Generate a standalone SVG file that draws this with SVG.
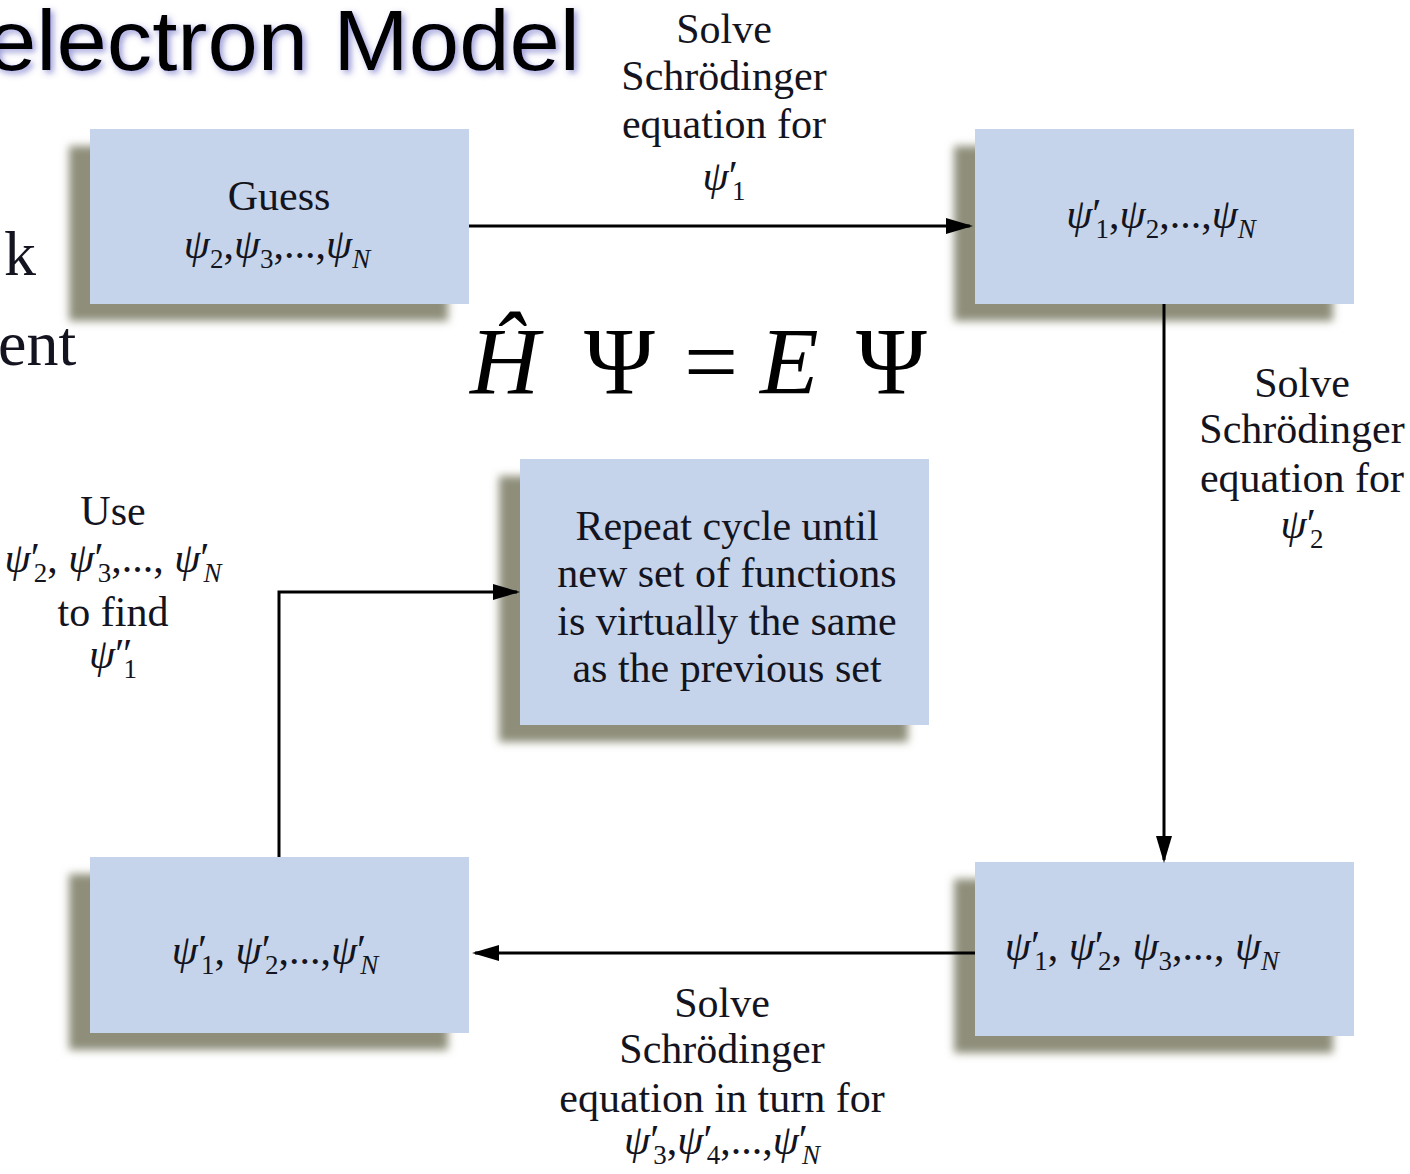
<svg xmlns="http://www.w3.org/2000/svg" width="1410" height="1174" viewBox="0 0 1410 1174">
  <style>
    .t { font-family: "Liberation Serif", "Times New Roman", serif; font-size: 42px; fill: #141420; }
    .c { text-anchor: middle; }
    .i { font-style: italic; }
    .s { font-size: 27px; }
    .box { fill: #c6d4eb; }
    .shadow { fill: #8e8e7a; filter: url(#blur); }
    .conn { fill: none; stroke: #000; stroke-width: 3; }
    .title { font-family: "Liberation Sans", Arial, sans-serif; font-size: 85px; fill: #000; filter: url(#glow); }
    .eq { font-family: "Liberation Serif", "Times New Roman", serif; font-size: 96px; fill: #000; }
  </style>
  <defs>
    <filter id="blur" x="-10%" y="-10%" width="120%" height="120%">
      <feGaussianBlur stdDeviation="4"/>
    </filter>
    <filter id="glow" x="-5%" y="-20%" width="110%" height="150%">
      <feGaussianBlur in="SourceAlpha" stdDeviation="3" result="b"/>
      <feOffset in="b" dx="3" dy="3" result="o"/>
      <feFlood flood-color="#4a4ab8" flood-opacity="0.55"/>
      <feComposite in2="o" operator="in" result="g"/>
      <feMerge><feMergeNode in="g"/><feMergeNode in="SourceGraphic"/></feMerge>
    </filter>
    <marker id="arr" markerUnits="userSpaceOnUse" markerWidth="27" markerHeight="16" refX="24" refY="8" orient="auto">
      <path d="M0,0 L27,8 L0,16 z" fill="#000"/>
    </marker>
  </defs>
  <rect width="1410" height="1174" fill="#fff"/>

  <!-- background slide fragments -->
  <g id="slide">
    <text class="title" x="-14" y="70" textLength="594" lengthAdjust="spacingAndGlyphs">electron Model</text>
    <text class="t" x="4" y="275" style="font-size:64px">k</text>
    <text class="t" x="-2" y="365" style="font-size:64px">ent</text>
  </g>

  <!-- equation -->
  <g id="equation">
    <text class="eq i" x="470" y="394">Ĥ</text>
    <text class="eq" x="584" y="394">Ψ</text>
    <text class="eq" x="684" y="394">=</text>
    <text class="eq i" x="760" y="394">E</text>
    <text class="eq" x="856" y="394">Ψ</text>
  </g>

  <!-- nodes -->
  <g id="node-guess">
    <rect class="shadow" x="69" y="146" width="379" height="175"/>
    <rect class="box" x="90" y="129" width="379" height="175"/>
    <text class="t c" x="279" y="210">Guess</text>
    <text class="t c" x="277" y="258"><tspan class="i">ψ</tspan><tspan class="s" dy="10">2</tspan><tspan dy="-10">,</tspan><tspan class="i">ψ</tspan><tspan class="s" dy="10">3</tspan><tspan dy="-10">,...,</tspan><tspan class="i">ψ</tspan><tspan class="s i" dy="10">N</tspan></text>
  </g>

  <g id="node-top-right">
    <rect class="shadow" x="954" y="146" width="379" height="175"/>
    <rect class="box" x="975" y="129" width="379" height="175"/>
    <text class="t c" x="1161" y="228"><tspan class="i">ψ</tspan><tspan>′</tspan><tspan class="s" dx="-6" dy="10">1</tspan><tspan dy="-10">,</tspan><tspan class="i">ψ</tspan><tspan class="s" dy="10">2</tspan><tspan dy="-10">,...,</tspan><tspan class="i">ψ</tspan><tspan class="s i" dy="10">N</tspan></text>
  </g>

  <g id="node-repeat">
    <rect class="shadow" x="499" y="476" width="409" height="266"/>
    <rect class="box" x="520" y="459" width="409" height="266"/>
    <text class="t c" x="727" y="540">Repeat cycle until</text>
    <text class="t c" x="727" y="587">new set of functions</text>
    <text class="t c" x="727" y="635">is virtually the same</text>
    <text class="t c" x="727" y="682">as the previous set</text>
  </g>

  <g id="node-bottom-left">
    <rect class="shadow" x="69" y="874" width="379" height="176"/>
    <rect class="box" x="90" y="857" width="379" height="176"/>
    <text class="t c" x="275" y="964"><tspan class="i">ψ</tspan><tspan>′</tspan><tspan class="s" dx="-6" dy="10">1</tspan><tspan dy="-10">, </tspan><tspan class="i">ψ</tspan><tspan>′</tspan><tspan class="s" dx="-6" dy="10">2</tspan><tspan dy="-10">,...,</tspan><tspan class="i">ψ</tspan><tspan>′</tspan><tspan class="s i" dx="-6" dy="10">N</tspan></text>
  </g>

  <g id="node-bottom-right">
    <rect class="shadow" x="954" y="879" width="379" height="174"/>
    <rect class="box" x="975" y="862" width="379" height="174"/>
    <text class="t c" x="1142" y="960"><tspan class="i">ψ</tspan><tspan>′</tspan><tspan class="s" dx="-6" dy="10">1</tspan><tspan dy="-10">, </tspan><tspan class="i">ψ</tspan><tspan>′</tspan><tspan class="s" dx="-6" dy="10">2</tspan><tspan dy="-10">, </tspan><tspan class="i">ψ</tspan><tspan class="s" dy="10">3</tspan><tspan dy="-10">,..., </tspan><tspan class="i">ψ</tspan><tspan class="s i" dy="10">N</tspan></text>
  </g>

  <!-- connectors (drawn above the box shadows, as in the reference) -->
  <g id="connectors">
    <path class="conn" d="M469,226 H970" marker-end="url(#arr)"/>
    <path class="conn" d="M1164,304 V860" marker-end="url(#arr)"/>
    <path class="conn" d="M975,953 H475" marker-end="url(#arr)"/>
    <path class="conn" d="M279,857 V592 H517" marker-end="url(#arr)"/>
  </g>

  <!-- edge labels -->
  <g id="label-top">
    <text class="t c" x="724" y="43">Solve</text>
    <text class="t c" x="724" y="90">Schrödinger</text>
    <text class="t c" x="724" y="138">equation for</text>
    <text class="t c" x="724" y="190"><tspan class="i">ψ</tspan><tspan>′</tspan><tspan class="s" dx="-6" dy="10">1</tspan></text>
  </g>
  <g id="label-right">
    <text class="t c" x="1302" y="397">Solve</text>
    <text class="t c" x="1302" y="443">Schrödinger</text>
    <text class="t c" x="1302" y="492">equation for</text>
    <text class="t c" x="1302" y="538"><tspan class="i">ψ</tspan><tspan>′</tspan><tspan class="s" dx="-6" dy="10">2</tspan></text>
  </g>
  <g id="label-bottom">
    <text class="t c" x="722" y="1017">Solve</text>
    <text class="t c" x="722" y="1063">Schrödinger</text>
    <text class="t c" x="722" y="1112">equation in turn for</text>
    <text class="t c" x="722" y="1154"><tspan class="i">ψ</tspan><tspan>′</tspan><tspan class="s" dx="-6" dy="10">3</tspan><tspan dy="-10">,</tspan><tspan class="i">ψ</tspan><tspan>′</tspan><tspan class="s" dx="-6" dy="10">4</tspan><tspan dy="-10">,...,</tspan><tspan class="i">ψ</tspan><tspan>′</tspan><tspan class="s i" dx="-6" dy="10">N</tspan></text>
  </g>
  <g id="label-left">
    <text class="t c" x="113" y="525">Use</text>
    <text class="t c" x="113" y="572"><tspan class="i">ψ</tspan><tspan>′</tspan><tspan class="s" dx="-6" dy="10">2</tspan><tspan dy="-10">, </tspan><tspan class="i">ψ</tspan><tspan>′</tspan><tspan class="s" dx="-6" dy="10">3</tspan><tspan dy="-10">,..., </tspan><tspan class="i">ψ</tspan><tspan>′</tspan><tspan class="s i" dx="-6" dy="10">N</tspan></text>
    <text class="t c" x="113" y="626">to find</text>
    <text class="t c" x="113" y="668"><tspan class="i">ψ</tspan><tspan>″</tspan><tspan class="s" dx="-9" dy="10">1</tspan></text>
  </g>
</svg>
